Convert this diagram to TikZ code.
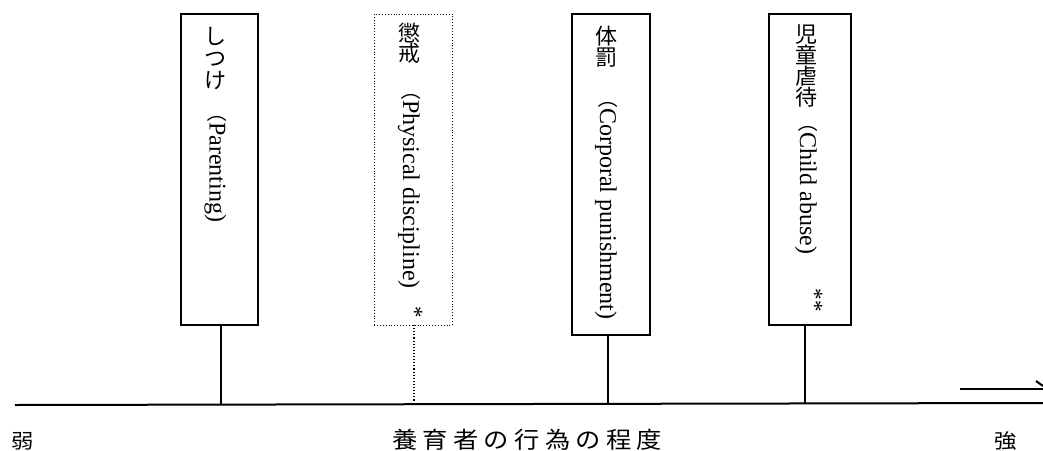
\documentclass[tikz,border=0pt]{standalone}
\usepackage{fontspec}
\setmainfont{Liberation Serif}
\newfontfamily\jp{Noto Sans CJK JP}
\newcommand\jpparen{{\jp\fontsize{20}{20}\selectfont （}}
\newcommand\jgap{\hspace{4.8pt}}
\begin{document}
\begin{tikzpicture}[x=1pt,y=-1pt,
  box/.style={draw, line width=1.1pt, anchor=north west, inner sep=0pt, outer sep=0pt},
  dotbox/.style={box, line width=0.9pt, dotted},
  stem/.style={line width=1.3pt},
  dotstem/.style={line width=1.1pt, dotted},
  axis/.style={line width=2pt},
  jpst/.style={align=center, inner sep=0pt, anchor=north},
  ens/.style={rotate=-90, anchor=west, inner sep=0pt, font=\fontsize{24}{26}\selectfont},
  star/.style={rotate=-90, inner sep=0pt, font=\fontsize{23}{25}\selectfont},
  lab/.style={inner sep=0pt, anchor=base west}]
\useasboundingbox (0,0) rectangle (1043,450);
\fill[white] (0,0) rectangle (1043,450);

% boxes
\node[box, minimum width=77pt, minimum height=311pt] (b1) at (181,14) {};
\node[dotbox, minimum width=78pt, minimum height=311pt] (b2) at (374,14) {};
\node[box, minimum width=78pt, minimum height=321pt] (b3) at (572,14) {};
\node[box, minimum width=82pt, minimum height=311pt] (b4) at (769,14) {};

% axis
\coordinate (axL) at (15,405);
\coordinate (axR) at (1043,403);
\draw[axis] (axL) -- (axR);
\coordinate (s1) at (221,404.6);
\coordinate (s2) at (414,404.2);
\coordinate (s3) at (608,403.8);
\coordinate (s4) at (805,403.5);
\draw[stem] (b1.south -| s1) -- (s1);
\draw[dotstem] (b2.south -| s2) -- (s2);
\draw[stem] (b3.south -| s3) -- (s3);
\draw[stem] (b4.south -| s4) -- (s4);

% cut-off arrow at right
\coordinate (a1) at (960,389);
\coordinate (a2) at (1043,389);
\coordinate (t1) at (1036,381);
\coordinate (t2) at (1043,386);
\draw[axis] (a1) -- (a2);
\draw[axis] (t1) -- (t2);

% vertical texts
\node[jpst, font={\jp\fontsize{22}{22}\selectfont}] (j1) at (215.5,27) {し\\つ\\け};
\node[ens] (e1) at (215.5,102) {\jpparen Parenting)};

\node[jpst, font={\jp\fontsize{22}{20}\selectfont}] (j2) at (409,22.5) {懲\\戒};
\node[ens] (e2) at (409,80) {\jpparen Physical discipline)};
\node[star] (st2) at (415,312) {*};

\node[jpst, font={\jp\fontsize{22}{21}\selectfont}] (j3) at (606,25.5) {体\\罰};
\node[ens] (e3) at (606,88) {\jpparen Corporal punishment)};

\node[jpst, font={\jp\fontsize{22}{19.5}\selectfont}] (j4) at (806,24.5) {児\\童\\虐\\待};
\node[ens] (e4) at (806,112) {\jpparen Child abuse)};
\node[star] (st4) at (815,300) {**};

% bottom labels
\node[lab, font={\jp\fontsize{20}{20}\selectfont}] (weak) at (11,448) {\scalebox{1.12}[1]{弱}};
\node[lab, font={\jp\fontsize{23}{23}\selectfont}] (mid) at (392,448) {\scalebox{1.1}[1]{養\jgap 育\jgap 者\jgap の\jgap 行\jgap 為\jgap の\jgap 程\jgap 度}};
\node[lab, font={\jp\fontsize{20}{20}\selectfont}] (strong) at (994,448) {\scalebox{1.12}[1]{強}};
\end{tikzpicture}
\end{document}
